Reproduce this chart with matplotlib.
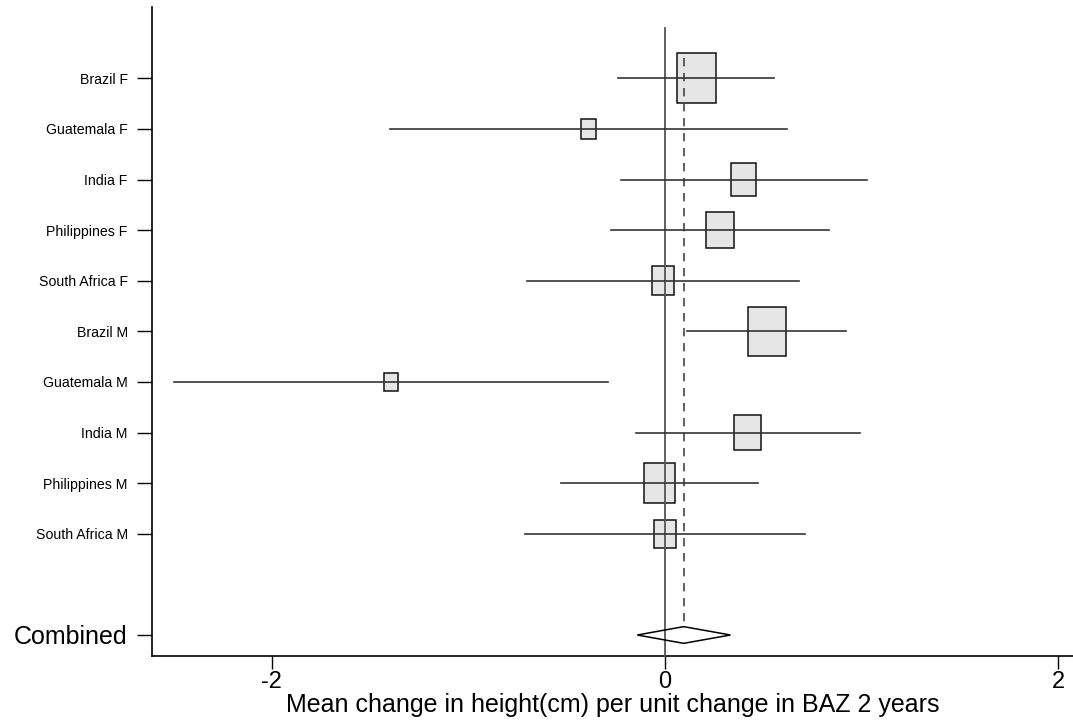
import matplotlib
matplotlib.use("Agg")
import matplotlib.pyplot as plt
from matplotlib.patches import Rectangle, Polygon
import numpy as np

plt.rcParams['font.family'] = ['Liberation Sans', 'DejaVu Sans']

# ---- data ----
studies = ["Brazil F", "Guatemala F", "India F", "Philippines F", "South Africa F",
           "Brazil M", "Guatemala M", "India M", "Philippines M", "South Africa M"]
est = [0.159, -0.390, 0.401, 0.280, -0.010, 0.517, -1.392, 0.420, -0.030, 0.000]
lo = [-0.237, -1.398, -0.224, -0.276, -0.702, 0.112, -2.497, -0.149, -0.530, -0.712]
hi = [0.556, 0.619, 1.026, 0.836, 0.681, 0.923, -0.288, 0.990, 0.471, 0.713]
weights = [20.2, 3.05, 8.47, 10.33, 6.80, 19.57, 2.51, 9.66, 13.03, 6.38]
combined_label = "Combined"
comb_est, comb_lo, comb_hi = 0.095, -0.141, 0.333
xticks = [-2, 0, 2]
xlabel = "Mean change in height(cm) per unit change in BAZ 2 years"

fig = plt.figure(figsize=(10.73, 7.27), dpi=100)
ax = fig.add_axes([152/1073, 1-656/727, 1-152/1073, (656-7)/727])

ypos = np.arange(1, len(studies)+1)
ycomb = len(studies) + 2

ax.set_xlim(-2.609, 2.075)
ax.set_ylim(12.415, -0.409)

# null line
ax.plot([0, 0], [0.0, 12.415], color='#555555', lw=1.3, zorder=3, clip_on=False)
# overall dashed line
ax.plot([comb_est, comb_est], [0.6, ycomb-0.165], color='#444444', lw=1.2,
        dashes=(5, 4), zorder=3)

hx, hy = 0.02183, 0.1099
for y, e, l, h, w in zip(ypos, est, lo, hi, weights):
    ax.plot([l, h], [y, y], color='#333333', lw=1.2, zorder=3)
    s = np.sqrt(w)
    ax.add_patch(Rectangle((e - hx*s, y - hy*s), 2*hx*s, 2*hy*s,
                           facecolor='#e6e6e6', edgecolor='#111111', lw=1.1, zorder=2))

dh = 0.165
ax.add_patch(Polygon([[comb_lo, ycomb], [comb_est, ycomb-dh], [comb_hi, ycomb],
                      [comb_est, ycomb+dh]], closed=True, facecolor='none',
                     edgecolor='black', lw=1.1, zorder=4))

ax.set_yticks(list(ypos) + [ycomb])
ax.set_yticklabels(studies + [combined_label])
for t in ax.get_yticklabels()[:-1]:
    t.set_fontsize(10.2)
ax.get_yticklabels()[-1].set_fontsize(18)
ax.tick_params(axis='y', length=10.5, width=1.0, pad=7, direction='out')
ax.set_xticks(xticks)
ax.set_xticklabels([str(x) for x in xticks], fontsize=17)
ax.tick_params(axis='x', length=9, width=1.0, pad=2, direction='out')
ax.set_xlabel(xlabel, fontsize=18, labelpad=0)

for sp in ['top', 'right']:
    ax.spines[sp].set_visible(False)
for sp in ['left', 'bottom']:
    ax.spines[sp].set_linewidth(1.2)

fig.savefig("out.png", dpi=100)
